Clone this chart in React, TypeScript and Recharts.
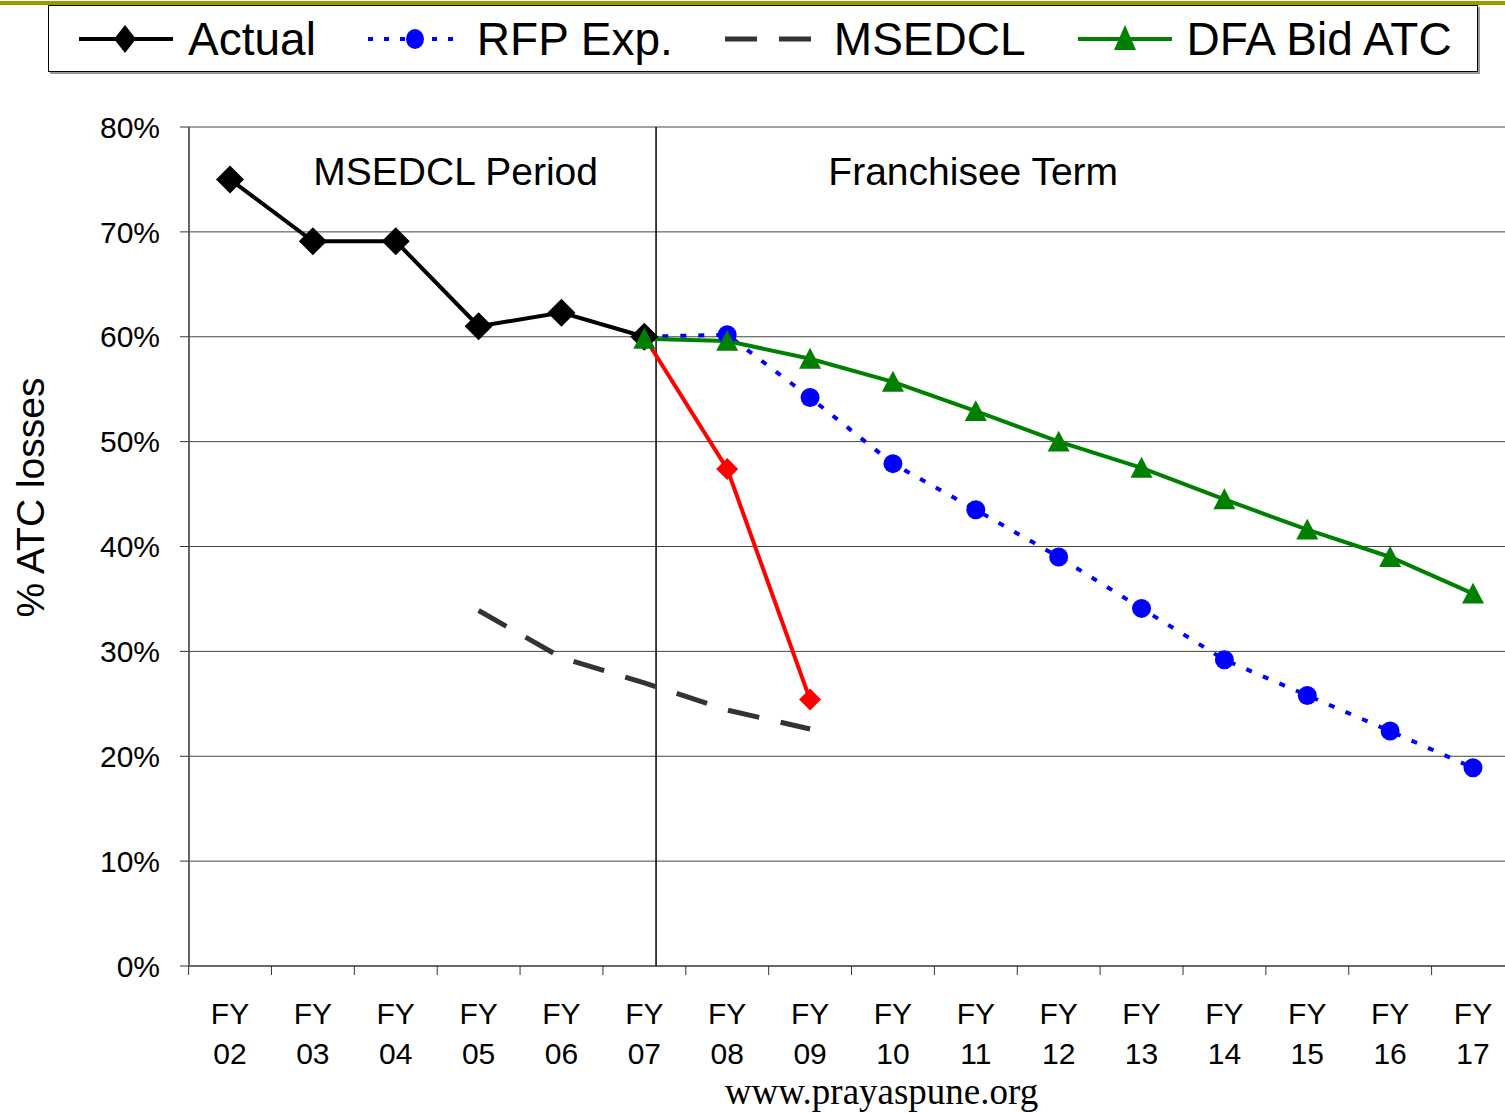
import { LineChart, Line, XAxis, YAxis, CartesianGrid, Legend, ReferenceLine, ReferenceDot } from 'recharts';

const years = ['FY 02', 'FY 03', 'FY 04', 'FY 05', 'FY 06', 'FY 07', 'FY 08', 'FY 09', 'FY 10', 'FY 11', 'FY 12', 'FY 13', 'FY 14', 'FY 15', 'FY 16', 'FY 17'];
const actual = [75.0, 69.1, 69.1, 61.0, 62.3, 60.0, null, null, null, null, null, null, null, null, null, null];
const franchiseeActual = [null, null, null, null, null, 60.0, 47.4, 25.4, null, null, null, null, null, null, null, null];
const rfpExp = [null, null, null, null, null, 60.0, 60.2, 54.2, 47.9, 43.5, 39.0, 34.1, 29.2, 25.8, 22.4, 18.9];
const msedcl = [null, null, null, 33.9, 29.4, 27.0, 24.4, 22.6, null, null, null, null, null, null, null, null];
const dfaBid = [null, null, null, null, null, 59.8, 59.6, 57.9, 55.7, 52.9, 50.0, 47.5, 44.5, 41.6, 39.0, 35.5];
const yTicks = [0, 10, 20, 30, 40, 50, 60, 70, 80];

const data = years.map((year, i) => ({
  idx: i,
  year,
  actual: actual[i],
  franchiseeActual: franchiseeActual[i],
  rfpExp: rfpExp[i],
  msedcl: msedcl[i],
  dfaBid: dfaBid[i],
}));

const FONT = '"Liberation Sans", Arial, sans-serif';

const Diamond = ({ cx, cy, r, fill }: any) => {
  if (cx == null || cy == null) return null;
  return <polygon points={`${cx},${cy - r} ${cx + r},${cy} ${cx},${cy + r} ${cx - r},${cy}`} fill={fill} />;
};

const Triangle = ({ cx, cy, r, fill }: any) => {
  if (cx == null || cy == null) return null;
  return <polygon points={`${cx},${cy - r} ${cx + r},${cy + r * 0.9} ${cx - r},${cy + r * 0.9}`} fill={fill} />;
};

function FyTick(props: any) {
  const { x, y, payload } = props;
  const half = 41.4;
  const [top, bottom] = String(payload.value).split(' ');
  return (
    <g>
      <line x1={x - half} x2={x - half} y1={y} y2={y + 9} stroke="#333" strokeWidth={1} />
      <text x={x} y={y + 58} textAnchor="middle" fontSize={30} fontFamily={FONT} fill="#000">{top}</text>
      <text x={x} y={y + 98} textAnchor="middle" fontSize={30} fontFamily={FONT} fill="#000">{bottom}</text>
    </g>
  );
}

const legendItems = [
  { label: 'Actual', kind: 'diamond' },
  { label: 'RFP Exp.', kind: 'dots' },
  { label: 'MSEDCL', kind: 'dash' },
  { label: 'DFA Bid ATC', kind: 'triangle' },
];

function LegendIcon({ kind }: { kind: string }) {
  return (
    <svg width={94} height={40} style={{ display: 'block', flexShrink: 0 }}>
      {kind === 'diamond' && (
        <>
          <line x1={0} x2={94} y1={20} y2={20} stroke="#000" strokeWidth={4} />
          <polygon points="46,6 57,20 46,34 35,20" fill="#000" />
        </>
      )}
      {kind === 'dots' && (
        <>
          <line x1={0} x2={94} y1={20} y2={20} stroke="#0000ff" strokeWidth={4} strokeDasharray="5 11" />
          <ellipse cx={47} cy={20} rx={9} ry={10} fill="#0000ff" />
        </>
      )}
      {kind === 'dash' && (
        <line x1={0} x2={94} y1={20} y2={20} stroke="#333" strokeWidth={5} strokeDasharray="32 22" />
      )}
      {kind === 'triangle' && (
        <>
          <line x1={0} x2={94} y1={20} y2={20} stroke="#008000" strokeWidth={4} />
          <polygon points="47,6 58,31 36,31" fill="#008000" />
        </>
      )}
    </svg>
  );
}

function LegendBox() {
  return (
    <div
      style={{
        width: 1430,
        height: 67,
        boxSizing: 'border-box',
        border: '1px solid #000',
        boxShadow: '2px 2px 0 #999',
        background: '#fff',
        display: 'flex',
        alignItems: 'center',
        paddingLeft: 30,
        fontFamily: FONT,
        fontSize: 46,
        color: '#000',
        whiteSpace: 'nowrap',
        overflow: 'hidden',
      }}
    >
      {legendItems.map((item) => (
        <div key={item.label} style={{ display: 'flex', alignItems: 'center', marginRight: 52, flexShrink: 0 }}>
          <LegendIcon kind={item.kind} />
          <span style={{ marginLeft: 15, lineHeight: '50px' }}>{item.label}</span>
        </div>
      ))}
    </div>
  );
}

export default function App() {
  return (
    <div style={{ position: 'absolute', left: 0, top: 0, width: 1505, height: 1113, overflow: 'hidden', background: '#fff' }}>
      <div style={{ position: 'absolute', left: 0, top: 1, width: 1505, height: 4, background: '#999900' }} />
      <LineChart width={1530} height={1113} data={data} margin={{ top: 127, right: 16, bottom: 0, left: 0 }}>
        <CartesianGrid vertical={false} stroke="#444" strokeWidth={1} />
        <XAxis
          dataKey="year"
          height={147}
          padding={{ left: 41, right: 41 }}
          tick={<FyTick />}
          tickLine={false}
          tickSize={0}
          tickMargin={0}
          interval={0}
          axisLine={{ stroke: '#333', strokeWidth: 1 }}
          label={{ value: 'www.prayaspune.org', position: 'insideBottom', offset: 9, dx: 30, fontSize: 37, fill: '#000', fontFamily: '"Liberation Serif", "Times New Roman", serif' }}
        />
        <XAxis xAxisId="pos" dataKey="idx" type="number" domain={[-0.5, 15.5]} hide allowDataOverflow />
        <YAxis
          width={189}
          domain={[0, 80]}
          ticks={yTicks}
          interval={0}
          tickFormatter={(v) => `${v}%`}
          tickSize={9}
          tickMargin={20}
          tickLine={{ stroke: '#333' }}
          axisLine={{ stroke: '#666', strokeWidth: 2 }}
          tick={{ fontSize: 30, fontFamily: FONT, fill: '#000' }}
          label={{ value: '% ATC losses', angle: -90, position: 'center', dx: -64, dy: -49, fontSize: 39, fontFamily: FONT, fill: '#000' }}
        />
        <Legend layout="horizontal" verticalAlign="middle" align="center" content={() => <LegendBox />} wrapperStyle={{ top: 5, left: 48, width: 1430, height: 67 }} />
        <ReferenceLine xAxisId="pos" x={5.14} stroke="#000" strokeWidth={1.5} />
        <ReferenceDot xAxisId="pos" x={2.72} y={75.8} r={0} fill="none" stroke="none" label={{ value: 'MSEDCL Period', position: 'center', fontSize: 39, fontFamily: FONT, fill: '#000' }} />
        <ReferenceDot xAxisId="pos" x={8.97} y={75.8} r={0} fill="none" stroke="none" label={{ value: 'Franchisee Term', position: 'center', fontSize: 39, fontFamily: FONT, fill: '#000' }} />
        <Line dataKey="msedcl" stroke="#333" strokeWidth={5} strokeDasharray="32 22" dot={false} isAnimationActive={false} connectNulls={false} />
        <Line dataKey="rfpExp" stroke="#0000ff" strokeWidth={4} strokeDasharray="6 12" dot={{ r: 9.5, fill: '#0000ff', stroke: 'none' }} isAnimationActive={false} />
        <Line dataKey="franchiseeActual" stroke="#ff0000" strokeWidth={4} dot={(p: any) => <Diamond key={p.index} cx={p.cx} cy={p.cy} r={11} fill="#ff0000" />} isAnimationActive={false} />
        <Line dataKey="actual" stroke="#000" strokeWidth={4} dot={(p: any) => <Diamond key={p.index} cx={p.cx} cy={p.cy} r={14} fill="#000" />} isAnimationActive={false} />
        <Line dataKey="dfaBid" stroke="#008000" strokeWidth={4} dot={(p: any) => <Triangle key={p.index} cx={p.cx} cy={p.cy} r={11} fill="#008000" />} isAnimationActive={false} />
      </LineChart>
    </div>
  );
}
